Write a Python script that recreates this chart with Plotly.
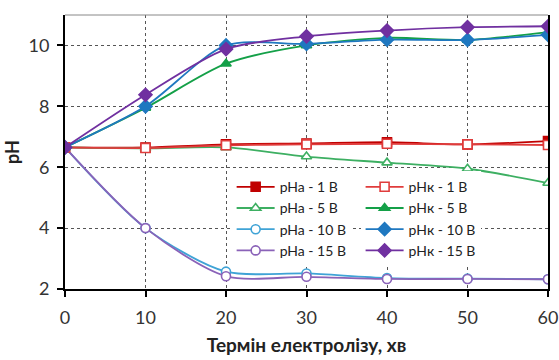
import plotly.graph_objects as go

x = [0, 10, 20, 30, 40, 50, 60]
pHa_1 = [6.65, 6.65, 6.75, 6.78, 6.82, 6.75, 6.86]
pHk_1 = [6.65, 6.63, 6.72, 6.75, 6.77, 6.75, 6.73]
pHa_5 = [6.65, 6.62, 6.65, 6.35, 6.15, 5.95, 5.48]
pHk_5 = [6.65, 7.95, 9.4, 10.0, 10.25, 10.18, 10.44]
pHa_10 = [6.65, 4.0, 2.57, 2.51, 2.36, 2.34, 2.32]
pHk_10 = [6.65, 8.0, 10.0, 10.05, 10.19, 10.18, 10.35]
pHa_15 = [6.65, 4.0, 2.42, 2.4, 2.33, 2.33, 2.32]
pHk_15 = [6.65, 8.38, 9.88, 10.3, 10.49, 10.6, 10.63]

# (name, values, colour, symbol, hollow, legend)
series = [
    ("pHa - 1 B", pHa_1, "#C00000", "square", False, "legend"),
    ("pHa - 5 B", pHa_5, "#3DAF62", "triangle-up", True, "legend"),
    ("pHa - 10 B", pHa_10, "#3FA3D6", "circle", True, "legend"),
    ("pHa - 15 B", pHa_15, "#8A62B8", "circle", True, "legend"),
    ("pHк - 1 B", pHk_1, "#E03C3C", "square", True, "legend2"),
    ("pHк - 5 B", pHk_5, "#14A048", "triangle-up", False, "legend2"),
    ("pHк - 10 B", pHk_10, "#1F78C0", "diamond", False, "legend2"),
    ("pHк - 15 B", pHk_15, "#7030A0", "diamond", False, "legend2"),
]

fig = go.Figure()
for name, vals, col, sym, hollow, lg in series:
    fig.add_trace(go.Scatter(
        x=x, y=vals, name=name, mode="lines+markers",
        line=dict(color=col, width=1.8, shape="spline", smoothing=0.8),
        marker=dict(symbol=sym, size=9 if sym != "diamond" else 10,
                    color="white" if hollow else col,
                    line=dict(color=col, width=1.6)),
        legend=lg,
    ))

font = "Lato, 'Open Sans', sans-serif"
leg_common = dict(bgcolor="white", borderwidth=0, yanchor="top", xanchor="left",
                  font=dict(family=font, size=14, color="#222"), tracegroupgap=0,
                  itemwidth=38)
fig.update_layout(
    width=559, height=360,
    margin=dict(l=65, r=11, t=15, b=71),
    paper_bgcolor="white", plot_bgcolor="white",
    font=dict(family=font, color="#222"),
    legend=dict(x=0.345, y=0.43, **leg_common),
    legend2=dict(x=0.612, y=0.43, **leg_common),
    xaxis=dict(
        range=[0, 60], tickvals=[0, 10, 20, 30, 40, 50, 60],
        showgrid=True, gridcolor="#555", griddash="dot", gridwidth=1,
        showline=True, linecolor="black", linewidth=2, mirror=False,
        ticks="outside", ticklen=6, tickwidth=2, tickcolor="black",
        ticklabelstandoff=5,
        tickfont=dict(size=18, family=font, color="#333"),
        title=dict(text="<b>Термін електролізу, хв</b>", font=dict(size=19, family=font, color="#222"), standoff=12),
        zeroline=False, automargin=False,
    ),
    yaxis=dict(
        range=[2, 11], tickvals=[2, 4, 6, 8, 10],
        showgrid=True, gridcolor="#555", griddash="dot", gridwidth=1,
        showline=True, linecolor="black", linewidth=2, mirror=True,
        ticks="outside", ticklen=6, tickwidth=2, tickcolor="black",
        ticklabelstandoff=4,
        tickfont=dict(size=18, family=font, color="#333"),
        title=dict(text="<b>pH</b>", font=dict(size=18, family=font, color="#222"), standoff=4),
        zeroline=False, automargin=False,
    ),
    shapes=[dict(type="line", xref="paper", yref="paper", x0=0, x1=1, y0=1, y1=1,
                 line=dict(color="#888", width=1))],
)

fig.write_html("out.html")
